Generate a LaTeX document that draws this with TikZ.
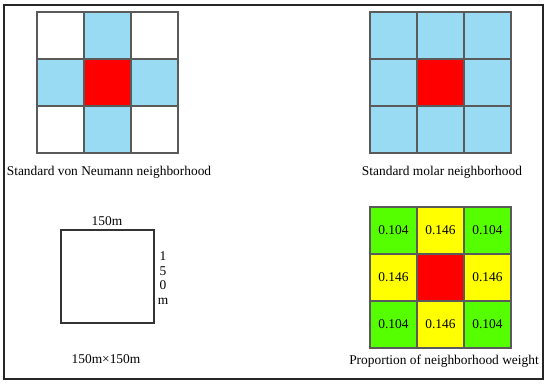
\documentclass[tikz,border=0pt]{standalone}
\usepackage{fontspec}
\setmainfont{Liberation Serif}
\usetikzlibrary{positioning}
\definecolor{skyblue}{HTML}{99DBF2}
\definecolor{cellred}{HTML}{FF0000}
\definecolor{limegreen}{HTML}{55FF00}
\definecolor{cellyellow}{HTML}{FFFF00}
\definecolor{gridline}{HTML}{5A5A5A}
\tikzset{every node/.style={font=\fontsize{13.4}{14.6}\selectfont},
  cell/.style={draw=gridline,line width=1.1pt,minimum size=47pt,inner sep=0pt,outer sep=0pt},
  caption/.style={inner sep=1pt},
  frame/.style={draw=black!85,line width=1.4pt}}
\begin{document}
\begin{tikzpicture}[x=1pt,y=-1pt]
\useasboundingbox(0,0)rectangle(550,388);
\draw[frame](4,5)rectangle(543,379);
% von Neumann neighbourhood
\foreach \r/\c/\col in {1/1/white,1/2/skyblue,1/3/white,2/1/skyblue,2/2/cellred,2/3/skyblue,3/1/white,3/2/skyblue,3/3/white}
  \node[cell,fill=\col](vn-\r-\c)at({13.5+47*\c},{-11.5+47*\r}){};
\node[caption](vncap)at(109,172){Standard von Neumann neighborhood};
% Moore neighbourhood
\foreach \r/\c/\col in {1/1/skyblue,1/2/skyblue,1/3/skyblue,2/1/skyblue,2/2/cellred,2/3/skyblue,3/1/skyblue,3/2/skyblue,3/3/skyblue}
  \node[cell,fill=\col](mo-\r-\c)at({346.5+47*\c},{-11.5+47*\r}){};
\node[caption](mocap)at(442,172){Standard molar neighborhood};
% cell size
\node[draw=black!80,line width=1.1pt,minimum size=93pt,inner sep=0pt](plot)at(107.5,276.5){};
\node[caption](plottop)at(107,221){150m};
\node[caption,align=center](plotside)at(163,278){1\\5\\0\\m};
\node[caption](plotcap)at(106,359){150m×150m};
% weights
\foreach \r/\c/\col/\val in {1/1/limegreen/0.104,1/2/cellyellow/0.146,1/3/limegreen/0.104,2/1/cellyellow/0.146,2/2/cellred/,2/3/cellyellow/0.146,3/1/limegreen/0.104,3/2/cellyellow/0.146,3/3/limegreen/0.104}
  \node[cell,fill=\col](wt-\r-\c)at({346.5+47*\c},{183.5+47*\r}){\val};
\node[caption](wtcap)at(444,361){Proportion of neighborhood weight};
\end{tikzpicture}
\end{document}
